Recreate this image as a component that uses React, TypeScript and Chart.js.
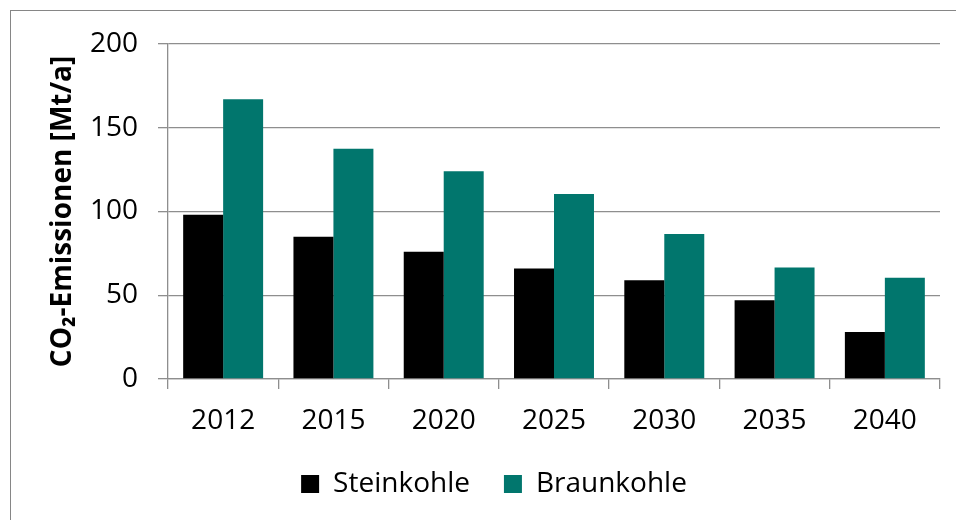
import React, { useEffect, useRef } from "react";
import { Chart, registerables } from "chart.js";

Chart.register(...registerables);

const years = ["2012", "2015", "2020", "2025", "2030", "2035", "2040"];
const steinkohle = [98, 85, 76, 66, 59, 47, 28];
const braunkohle = [167, 137.5, 124, 110.5, 86.5, 66.5, 60.5];
const seriesNames = ["Steinkohle", "Braunkohle"];
const yTitle = "CO₂-Emissionen [Mt/a]";

const FONT = "'Open Sans', 'Liberation Sans', sans-serif";
const GRID = "#8e8e8e";

const legendShift = {
  id: "legendShift",
  afterLayout(chart: any) {
    if (chart.legend) {
      chart.legend.left += 24;
      chart.legend.right += 24;
    }
  },
};

export default function App() {
  const ref = useRef<HTMLCanvasElement | null>(null);
  useEffect(() => {
    if (!ref.current) return;
    const chart = new Chart(ref.current, {
      type: "bar",
      data: {
        labels: years,
        datasets: [
          {
            label: seriesNames[0],
            data: steinkohle,
            backgroundColor: "#000000",
            borderWidth: 0,
            categoryPercentage: 0.725,
            barPercentage: 1,
          },
          {
            label: seriesNames[1],
            data: braunkohle,
            backgroundColor: "#01766d",
            borderWidth: 0,
            categoryPercentage: 0.725,
            barPercentage: 1,
          },
        ],
      },
      plugins: [legendShift],
      options: {
        responsive: false,
        animation: false,
        layout: { padding: { left: 0, right: 16, top: 44, bottom: 16 } },
        plugins: {
          tooltip: { enabled: false },
          legend: {
            position: "bottom",
            maxHeight: 68,
            labels: {
              boxWidth: 18,
              boxHeight: 18,
              padding: 34,
              color: "#000",
              font: { family: FONT, size: 28 },
            },
          },
        },
        scales: {
          x: {
            afterFit: (s: any) => {
              s.height = 57;
            },
            grid: {
              display: true,
              drawOnChartArea: false,
              drawTicks: true,
              tickLength: 10,
              color: GRID,
              lineWidth: 1.3,
            },
            border: { display: true, color: GRID, width: 1.3 },
            ticks: {
              color: "#000",
              padding: 15,
              font: { family: FONT, size: 28 },
              maxRotation: 0,
            },
          },
          y: {
            min: 0,
            max: 200,
            afterFit: (s: any) => {
              s.width = 168;
            },
            grid: {
              display: true,
              drawTicks: true,
              tickLength: 10,
              color: GRID,
              lineWidth: 1.3,
            },
            border: { display: true, color: GRID, width: 1.3 },
            ticks: {
              stepSize: 50,
              color: "#000",
              padding: 20,
              font: { family: FONT, size: 28 },
            },
            title: {
              display: true,
              text: yTitle,
              color: "#000",
              padding: { top: 46, bottom: 0 },
              font: { family: FONT, size: 28, weight: "bold" },
            },
          },
        },
      },
    });
    return () => chart.destroy();
  }, []);

  return (
    <div
      style={{
        position: "fixed",
        left: 0,
        top: 0,
        width: 956,
        height: 520,
        overflow: "hidden",
        background: "#fff",
      }}
    >
      <div
        style={{
          position: "absolute",
          left: 10,
          top: 10,
          width: 1000,
          height: 600,
          border: "1px solid #868686",
        }}
      />
      <canvas
        ref={ref}
        width={956}
        height={520}
        style={{ position: "absolute", left: 0, top: 0, width: 956, height: 520 }}
      />
    </div>
  );
}
